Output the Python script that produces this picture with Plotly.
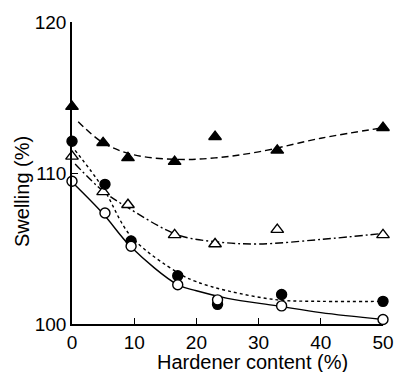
import plotly.graph_objects as go

# Measured points
x_pts = [0, 5, 9, 16.5, 23, 33, 50]
filled_tri = [114.4, 112.0, 111.0, 110.75, 112.4, 111.5, 113.0]
open_tri = [111.1, 108.75, 107.9, 105.9, 105.3, 106.25, 105.9]
filled_circ = [112.1, 109.25, 105.5, 103.2, 101.3, 101.95, 101.5]
open_circ = [109.45, 107.35, 105.15, 102.6, 101.6, 101.2, 100.3]
x_pts_c = [0, 5.3, 9.5, 17, 23.4, 33.7, 50]

# Fitted curves
curve_ft_x = [1, 5, 10, 17, 23, 30, 40, 50]
curve_ft_y = [113.4, 112.0, 111.2, 110.9, 111.0, 111.4, 112.3, 113.0]
curve_ot_x = [0.5, 5, 9, 17, 23, 30, 40, 50]
curve_ot_y = [110.6, 108.8, 107.7, 105.9, 105.45, 105.3, 105.6, 106.0]
curve_fc_x = [0.5, 5, 9.5, 17, 20, 25, 33, 40, 50]
curve_fc_y = [111.5, 109.0, 105.8, 103.4, 102.8, 102.2, 101.6, 101.5, 101.5]
curve_oc_x = [0, 5, 9.5, 17, 20, 25, 33, 40, 50]
curve_oc_y = [109.4, 107.3, 105.1, 102.6, 102.2, 101.7, 101.2, 100.75, 100.3]

x_ticks = [0, 10, 20, 30, 40, 50]
y_ticks = [100, 110, 120]
x_title = "Hardener content (%)"
y_title = "Swelling (%)"

fig = go.Figure()

def curve(x, y, dash):
    fig.add_trace(go.Scatter(x=x, y=y, mode="lines", line=dict(color="black", width=1.4, dash=dash, shape="spline"),
                             showlegend=False, hoverinfo="skip", cliponaxis=False))

curve(curve_ft_x, curve_ft_y, "7px,4px")
curve(curve_ot_x, curve_ot_y, "8px,3px,2px,3px")
curve(curve_fc_x, curve_fc_y, "3px,3px")
curve(curve_oc_x, curve_oc_y, "solid")

def pts(x, y, symbol, fill, size):
    fig.add_trace(go.Scatter(x=x, y=y, mode="markers",
                             marker=dict(symbol=symbol, size=size, color=fill,
                                         line=dict(color="black", width=1.4)),
                             showlegend=False, cliponaxis=False))

pts(x_pts, filled_tri, "triangle-up", "black", 11)
pts(x_pts, open_tri, "triangle-up", "white", 11)
pts(x_pts_c, filled_circ, "circle", "black", 10)
pts(x_pts_c, open_circ, "circle", "white", 10)

tick_font = dict(family="Liberation Sans, Arial, sans-serif", size=19, color="black")
title_font = dict(family="Liberation Sans, Arial, sans-serif", size=20, color="black")

W, H = 406, 372
fig.update_layout(
    width=W, height=H,
    margin=dict(l=72, r=12, t=17, b=48),
    plot_bgcolor="white", paper_bgcolor="white",
    font=tick_font,
    xaxis=dict(range=[0, 50], tickvals=x_ticks, ticks="inside", ticklen=6, tickcolor="black",
               tickfont=tick_font,
               showline=True, linecolor="black", linewidth=1.5, showgrid=False, zeroline=False),
    yaxis=dict(range=[100, 120], tickvals=y_ticks, ticks="inside", ticklen=6, tickcolor="black",
               tickfont=tick_font,
               showline=True, linecolor="black", linewidth=1.5, showgrid=False, zeroline=False),
)

fig.add_annotation(text=x_title, xref="paper", yref="paper",
                   x=(259 - 72) / (W - 72 - 12), y=-(363 - 324) / (H - 17 - 48),
                   xanchor="center", yanchor="middle", showarrow=False, font=title_font)
fig.add_annotation(text=y_title, xref="paper", yref="paper", textangle=-90,
                   x=-(72 - 20) / (W - 72 - 12), y=(324 - 189) / (H - 17 - 48),
                   xanchor="center", yanchor="middle", showarrow=False, font=title_font)

fig.write_html("out.html")
